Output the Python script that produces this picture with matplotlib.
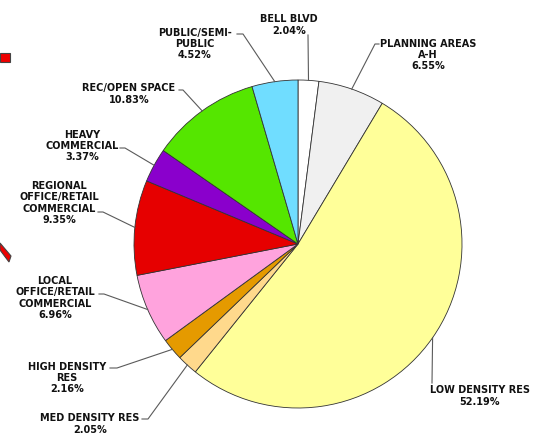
import matplotlib
matplotlib.use("Agg")
import matplotlib.pyplot as plt
import numpy as np
from matplotlib.patches import Polygon

categories = ["BELL BLVD", "PLANNING AREAS\nA-H", "LOW DENSITY RES", "MED DENSITY RES",
              "HIGH DENSITY\nRES", "LOCAL\nOFFICE/RETAIL\nCOMMERCIAL",
              "REGIONAL\nOFFICE/RETAIL\nCOMMERCIAL", "HEAVY\nCOMMERCIAL",
              "REC/OPEN SPACE", "PUBLIC/SEMI-\nPUBLIC"]
values = [2.04, 6.55, 52.19, 2.05, 2.16, 6.96, 9.35, 3.37, 10.83, 4.52]
colors = ["#FFFFFF", "#F0F0F0", "#FFFF99", "#FFD98C", "#E59A00", "#FFA3DD",
          "#E60000", "#8A00CC", "#55E600", "#70DDFF"]

# layout (pixel coords, y from top): text centre, leader elbow, leader end
text_pos = [(289, 25), (428, 55), (480, 396), (90, 424), (67, 378), (55, 298),
            (59, 203), (82, 146), (129, 94), (195, 44)]
elbows = [(308, 35), (375, 44), (432, 383), (148, 419), (117, 368), (104, 294),
          (103, 212), (125, 148), (183, 90), (243, 34)]
ends = [(308, 35), (379, 44), (432, 383), (142, 419), (110, 368), (99, 294),
        (98, 212), (120, 148), (179, 90), (237, 34)]

W, H = 540, 434
fig = plt.figure(figsize=(W / 100, H / 100), dpi=100)
ax = fig.add_axes([0, 0, 1, 1])

cx, cy, R = 298, H - 244, 164
wedges, _ = ax.pie(values, colors=colors, startangle=90, counterclock=False,
                   center=(cx, cy), radius=R, frame=True,
                   wedgeprops=dict(edgecolor="#333333", linewidth=0.6))
ax.set_xlim(0, W)
ax.set_ylim(0, H)
ax.axis("off")

for w, lab, v, tp, el, en in zip(wedges, categories, values, text_pos, elbows, ends):
    ang = np.deg2rad((w.theta1 + w.theta2) / 2)
    px, py = cx + R * np.cos(ang), cy + R * np.sin(ang)
    ax.plot([px, el[0], en[0]], [py, H - el[1], H - en[1]], color="#5a5a5a", lw=0.8)
    ax.text(tp[0], H - tp[1], f"{lab}\n{v:.2f}%", ha="center", va="center",
            multialignment="center", fontsize=7, fontweight="bold",
            family="DejaVu Sans", linespacing=1.15, color="#111111")

# red arrow fragments at left edge
ax.add_patch(Polygon([(0, H - 53), (10, H - 53), (10, H - 62), (0, H - 62)],
                     closed=True, facecolor="#EE0000", edgecolor="#444444", lw=0.8))
ax.add_patch(Polygon([(0, H - 243), (0, H - 250), (9, H - 262), (11, H - 256)],
                     closed=True, facecolor="#EE0000", edgecolor="#444444", lw=0.8))

fig.savefig("out.png", dpi=100)
